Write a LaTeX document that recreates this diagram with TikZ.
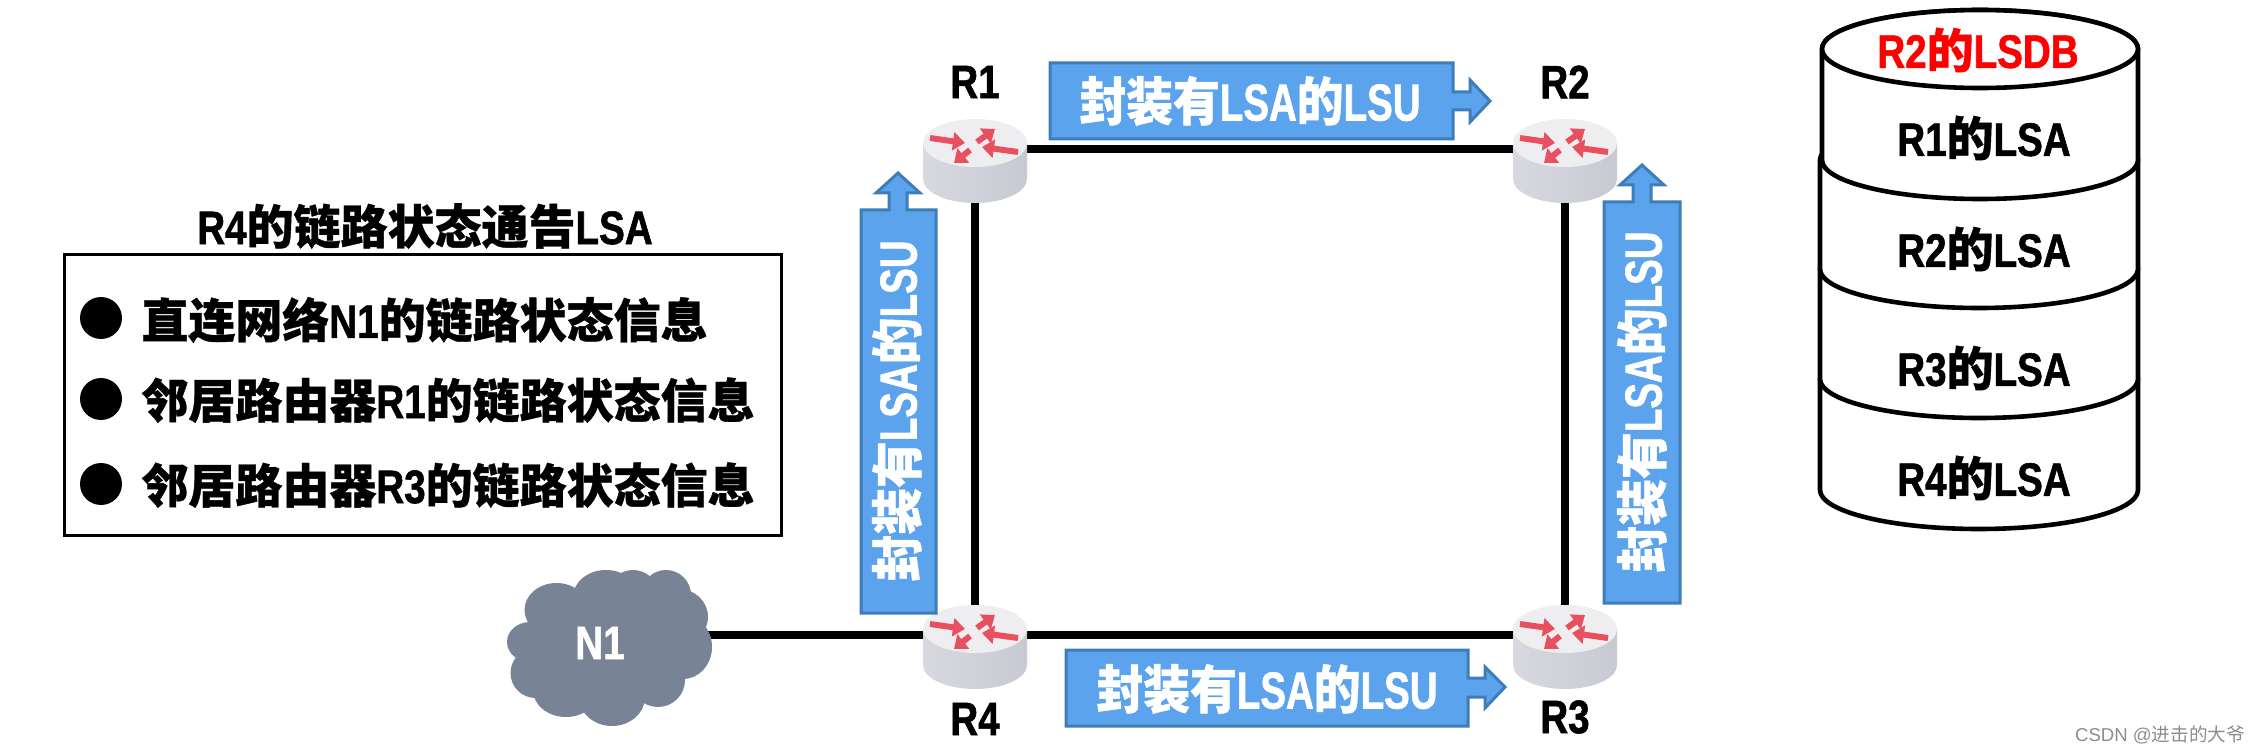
\documentclass[tikz,border=0pt]{standalone}
\usepackage{fontspec}
\usetikzlibrary{arrows.meta}
\setmainfont[FakeStretch=0.82,BoldFeatures={FakeBold=1.2}]{Liberation Sans}
\newfontfamily\cjk[BoldFeatures={FakeBold=0.8}]{Noto Sans CJK SC}
\newfontfamily\lsulatin[FakeStretch=0.74,BoldFeatures={FakeBold=1.2}]{Liberation Sans}
\newfontfamily\lsucjk[FakeStretch=0.9,BoldFeatures={FakeBold=0.8}]{Noto Sans CJK SC}
\newfontfamily\wmlatin{Liberation Sans}
\newcommand\zh[1]{{\cjk\bfseries #1}}
\newcommand\lsutext{{\lsucjk\bfseries 封装有}LSA{\lsucjk\bfseries 的}LSU}
\definecolor{lsublue}{HTML}{5BA3EC}
\definecolor{lsuedge}{HTML}{3F7DB8}
\definecolor{cloudgrey}{HTML}{788496}
\definecolor{routerred}{HTML}{E8505F}
\definecolor{routertop}{HTML}{EEEEF1}
\definecolor{routerl}{HTML}{D8D9DF}
\definecolor{routerm}{HTML}{DFE0E5}
\definecolor{routerr}{HTML}{C8CAD3}
\pgfdeclarelayer{links}
\pgfdeclarelayer{shapes}
\pgfsetlayers{links,shapes,main}
\tikzset{
  x=.5pt,y=-.5pt,
  txt/.style={font=\fontsize{23.5}{26}\selectfont\bfseries,inner sep=0pt,text=black},
  lsulabel/.style={font=\lsulatin\fontsize{26}{28}\selectfont\bfseries,inner sep=0pt,text=white},
  lsuarrow/.style={fill=lsublue,draw=lsuedge,line width=1.5pt,line join=miter},
  anchorbox/.style={inner sep=0pt,minimum width=52pt,minimum height=30pt},
  link/.style={line width=4pt,black},
  layer/.style={draw=black,line width=2.3pt,fill=white,line join=round},
  bullet/.style={circle,fill=black,inner sep=0pt,minimum size=21pt},
  rarrow/.style={-{Triangle[length=6pt,width=9pt]},line width=3pt,routerred},
  pics/router/.style={code={
    \begin{scope}[shift={(0,12)}]
      \path[left color=routerl,middle color=routerm,right color=routerr]
        (-52,-18) -- (-52,18) arc[start angle=180,end angle=0,x radius=52,y radius=24] -- (52,-18) -- cycle;
      \path[fill=routertop] (0,-18) ellipse [x radius=52,y radius=24];
      \draw[rarrow] (-45,-23) -- (-10,-18);
      \draw[rarrow] (2,-19) -- (20,-32);
      \draw[rarrow] (43,-9) -- (7,-14);
      \draw[rarrow] (-5,-11) -- (-21,2);
    \end{scope}
  }}
}
\begin{document}
\begin{tikzpicture}
\useasboundingbox (0,0) rectangle (2261,754);
% routers: node centre sits on the links
\node[anchorbox] (r1) at (975,149) {};
\node[anchorbox] (r2) at (1565,149) {};
\node[anchorbox] (r3) at (1565,635) {};
\node[anchorbox] (r4) at (975,635) {};
\node[txt] (l1) at (975,82) {R1};
\node[txt] (l2) at (1565,82) {R2};
\node[txt] (l3) at (1565,717) {R3};
\node[txt] (l4) at (975,719) {R4};
\node[txt,text=white] (n1) at (600,643) {N1};
\begin{pgfonlayer}{links}
  \draw[link] (r1.center) -- (r2.center);
  \draw[link] (r2.center) -- (r3.center);
  \draw[link] (r3.center) -- (r4.center);
  \draw[link] (r4.center) -- (r1.center);
  \draw[link] (n1.center |- r4.center) -- (r4.center);
\end{pgfonlayer}
\begin{pgfonlayer}{shapes}
  \pic at (r1) {router};
  \pic at (r2) {router};
  \pic at (r3) {router};
  \pic at (r4) {router};
  \fill[cloudgrey]
    (610,648) ellipse [x radius=80,y radius=55]
    (556.5,610) ellipse [x radius=32,y radius=27]
    (606,597) ellipse [x radius=33,y radius=27]
    (633,590) ellipse [x radius=23,y radius=20]
    (666,595) ellipse [x radius=25,y radius=25]
    (679,617) ellipse [x radius=29,y radius=28]
    (683,647) ellipse [x radius=29,y radius=32]
    (658,680) ellipse [x radius=27,y radius=27]
    (612,697) ellipse [x radius=33,y radius=29]
    (566,690) ellipse [x radius=33,y radius=27]
    (535.5,673) ellipse [x radius=25,y radius=25]
    (530,642) ellipse [x radius=23,y radius=20];
  % LSU arrows
  \draw[lsuarrow] (1050,63) -- (1453,63) -- (1453,92) -- (1470,92) -- (1470,80) -- (1490,101) -- (1470,122) -- (1470,110) -- (1453,110) -- (1453,139) -- (1050,139) -- cycle;
  \draw[lsuarrow] (1066,650) -- (1468,650) -- (1468,678) -- (1485,678) -- (1485,667) -- (1505,687) -- (1485,708) -- (1485,697) -- (1468,697) -- (1468,726) -- (1066,726) -- cycle;
  \draw[lsuarrow] (861,613) -- (861,210) -- (889,210) -- (889,193) -- (876,193) -- (898,173) -- (920,193) -- (907,193) -- (907,210) -- (936,210) -- (936,613) -- cycle;
  \draw[lsuarrow] (1604,603) -- (1604,202) -- (1633,202) -- (1633,185) -- (1620,185) -- (1642,165) -- (1664,185) -- (1651,185) -- (1651,202) -- (1680,202) -- (1680,603) -- cycle;
  % LSDB stack
  \draw[layer] (1820,490) -- (1820,379) arc[start angle=180,end angle=360,x radius=159,y radius=39] -- (2138,490) arc[start angle=0,end angle=180,x radius=159,y radius=39] -- cycle;
  \draw[layer] (1820,379) -- (1820,269) arc[start angle=180,end angle=360,x radius=159,y radius=39] -- (2138,379) arc[start angle=0,end angle=180,x radius=159,y radius=39] -- cycle;
  \draw[layer] (1820,269) -- (1820,160) arc[start angle=180,end angle=360,x radius=159,y radius=39] -- (2138,269) arc[start angle=0,end angle=180,x radius=159,y radius=39] -- cycle;
  \draw[layer] (1822,160) -- (1822,49) arc[start angle=180,end angle=360,x radius=158,y radius=39] -- (2138,160) arc[start angle=0,end angle=180,x radius=158,y radius=39] -- cycle;
  \draw[layer] (1980,49) ellipse [x radius=158,y radius=39];
\end{pgfonlayer}
\node[lsulabel] (t1) at (1250,101) {\lsutext};
\node[lsulabel] (t2) at (1267,689) {\lsutext};
\node[lsulabel,rotate=90] (t3) at (897,411) {\lsutext};
\node[lsulabel,rotate=90] (t4) at (1642,402) {\lsutext};
% LSDB labels
\node[txt,text=red] (db0) at (1978,50) {R2\zh{的}LSDB};
\node[txt] (db1) at (1984,138) {R1\zh{的}LSA};
\node[txt] (db2) at (1984,249) {R2\zh{的}LSA};
\node[txt] (db3) at (1984,368) {R3\zh{的}LSA};
\node[txt] (db4) at (1984,478) {R4\zh{的}LSA};
% LSA panel
\node[txt] (title) at (425,226) {R4\zh{的链路状态通告}LSA};
\node[draw=black,line width=1.5pt,minimum width=358.5pt,minimum height=140pt,inner sep=0pt] (panel) at (422.5,395) {};
\node[bullet] (b1) at (101,318) {};
\node[bullet] (b2) at (101,399) {};
\node[bullet] (b3) at (101,484) {};
\node[txt,anchor=west] (i1) at (141,320) {\zh{直连网络}N1\zh{的链路状态信息}};
\node[txt,anchor=west] (i2) at (141,400) {\zh{邻居路由器}R1\zh{的链路状态信息}};
\node[txt,anchor=west] (i3) at (141,485) {\zh{邻居路由器}R3\zh{的链路状态信息}};
% watermark
\node[inner sep=0pt,text=black!45,font=\fontsize{9.3}{11}\selectfont] (wm) at (2160,735) {{\wmlatin CSDN @}{\cjk 进击的大爷}};
\end{tikzpicture}
\end{document}
